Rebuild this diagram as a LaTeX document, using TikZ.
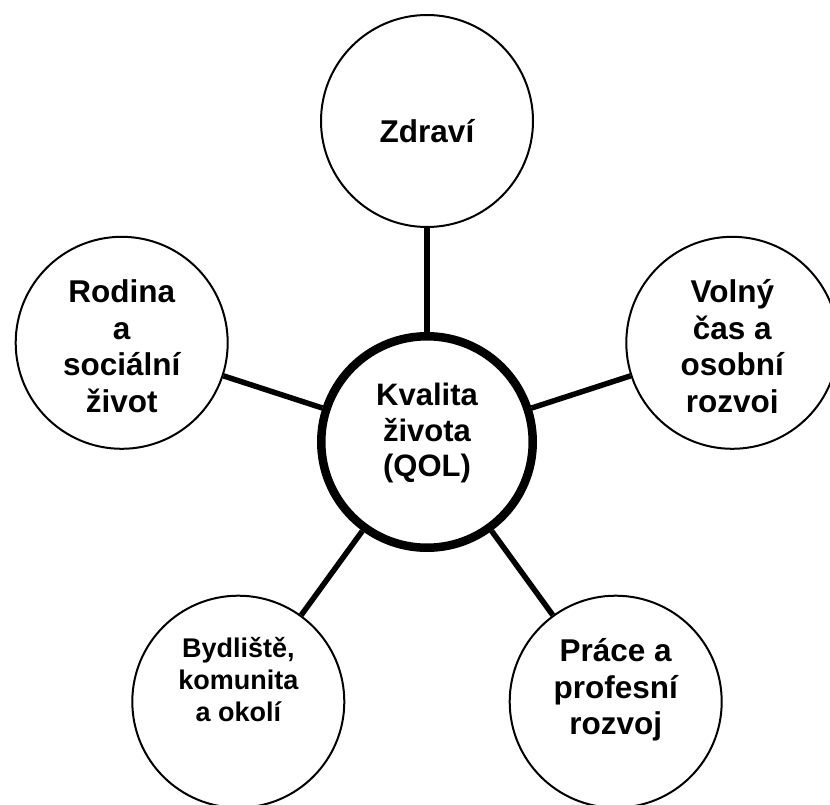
\documentclass[tikz,border=0pt]{standalone}
\usepackage{fontspec}
\setmainfont{Liberation Sans}
\tikzset{
	bubble/.style={draw, circle, line width=2pt, minimum size=212pt, inner sep=0pt},
	hub/.style={draw, circle, line width=8.5pt, minimum size=211.5pt, inner sep=0pt},
	conn/.style={line width=5.5pt},
	caption/.style={align=center, inner sep=0pt, font=\bfseries\fontsize{31.5}{36.5}\selectfont},
}
\begin{document}
\begin{tikzpicture}[x=1pt, y=-1pt]
	\useasboundingbox (0,0) rectangle (830,805);
	\clip (0,0) rectangle (830,805);
	
	%Kreise
	\node[hub] (qol) at (427,442) {};
	\node[bubble] (zdravi) at (427,121) {};
	\node[bubble] (rodina) at (121.7,342.8) {};
	\node[bubble] (volny) at (732.3,342.8) {};
	\node[bubble] (bydliste) at (238.3,701.7) {};
	\node[bubble] (prace) at (615.7,701.7) {};
	
	%Verbindungen
	\draw[conn] (qol) -- (zdravi);
	\draw[conn] (qol) -- (rodina);
	\draw[conn] (qol) -- (volny);
	\draw[conn] (qol) -- (bydliste);
	\draw[conn] (qol) -- (prace);
	
	%Texte
	\node[caption, font=\bfseries\fontsize{31}{35.5}\selectfont] (tqol) at (427,433) {Kvalita\\života\\(QOL)};
	\node[caption] (tzdravi) at (427,131.5) {Zdraví};
	\node[caption] (trodina) at (121.7,346.2) {Rodina\\a\\sociální\\život};
	\begin{scope}
		\clip (600,0) rectangle (830,412.5);%abgeschnittene Zeile
		\node[caption] (tvolny) at (732.3,349.3) {Volný\\čas a\\osobní\\rozvoj};
	\end{scope}
	\node[caption, font=\bfseries\fontsize{27}{32}\selectfont] (tbydliste) at (238.3,680) {Bydliště,\\komunita\\a okolí};
	\node[caption] (tprace) at (615.7,690) {Práce a\\profesní\\rozvoj};
\end{tikzpicture}
\end{document}
